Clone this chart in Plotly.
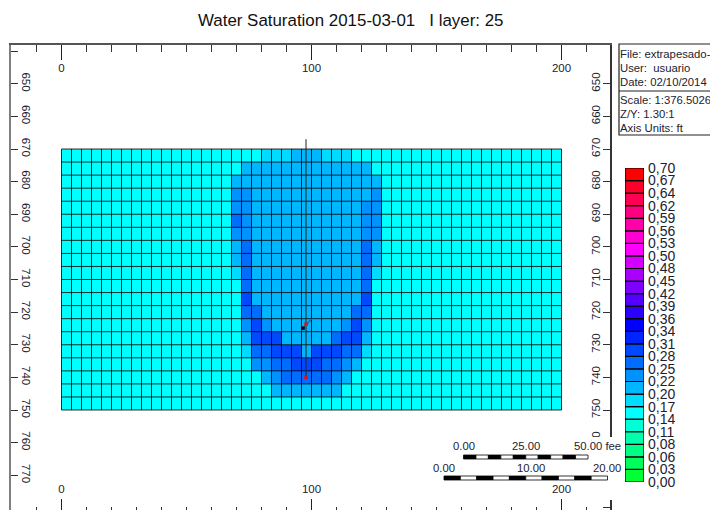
import plotly.graph_objects as go

W, H = 710, 510

# ---- data ----
# saturation class values (mid-points of the colour classes)
C, D, B, A, M, N = 0.154, 0.182, 0.21, 0.238, 0.266, 0.294

x_edges = list(range(0, 204, 4))
y_edges = list(range(670, 754, 4))
x_centers = [v + 2 for v in x_edges[:-1]]
y_centers = [v + 2 for v in y_edges[:-1]]

left_background = [C] * 16      # columns 0-15 are uniform cyan
right_background = [C] * 17     # columns 33-49 are uniform cyan
core_rows = [  # columns 16-32, rows from top (I-layer depth 670) to bottom
    [C, C, C, C, D, D, D, B, B, B, D, D, D, C, C, C, C],
    [C, C, B, B, B, B, B, B, B, B, B, B, B, B, B, C, C],
    [C, B, B, B, B, B, B, B, B, B, B, B, B, B, B, B, C],
    [C, A, A, B, B, B, B, B, B, B, B, B, B, B, B, A, C],
    [C, A, A, B, B, B, B, B, B, B, B, B, B, B, A, A, C],
    [C, M, A, B, B, B, B, B, B, B, B, B, B, B, A, A, C],
    [C, A, A, B, B, B, B, B, B, B, B, B, B, B, A, A, C],
    [C, B, M, B, B, B, B, B, B, B, B, B, B, B, M, B, C],
    [C, B, M, B, B, B, B, B, B, B, B, B, B, B, M, B, C],
    [C, D, M, B, B, B, B, B, B, B, B, B, B, B, M, D, C],
    [C, C, M, B, B, B, B, B, B, B, B, B, B, B, M, C, C],
    [C, C, N, B, B, B, B, B, B, B, B, B, B, B, N, C, C],
    [C, C, M, M, B, B, B, B, B, B, B, B, B, M, M, C, C],
    [C, C, A, N, A, B, B, B, B, B, B, B, A, N, A, C, C],
    [C, C, B, N, N, N, B, B, B, B, B, M, N, N, B, C, C],
    [C, C, D, M, M, N, N, N, B, N, N, N, M, M, D, C, C],
    [C, C, C, A, A, M, M, N, N, N, M, M, A, B, C, C, C],
    [C, C, C, C, B, A, M, M, M, M, M, A, B, C, C, C, C],
    [C, C, C, C, C, B, B, B, B, B, B, B, C, C, C, C, C],
    [C, C, C, C, C, C, C, C, C, C, C, C, C, C, C, C, C],
]

well_x = [97.8, 97.8]
well_y = [667, 740]
perf_x = [97.8, 97.8]
perf_y = [723.7, 740]
toe_x = [96.6]
toe_y = [724.9]
stub_x = [96.2, 100]
stub_y = [725.5, 722]

legend_levels = [0.0, 0.028, 0.056, 0.084, 0.112, 0.14, 0.168, 0.196, 0.224, 0.252, 0.28, 0.308, 0.336,
                 0.364, 0.392, 0.42, 0.448, 0.476, 0.504, 0.532, 0.56, 0.588, 0.616, 0.644, 0.672, 0.70]
legend_labels = ["0,00", "0,03", "0,06", "0,08", "0,11", "0,14", "0,17", "0,20", "0,22", "0,25", "0,28",
                 "0,31", "0,34", "0,36", "0,39", "0,42", "0,45", "0,48", "0,50", "0,53", "0,56", "0,59",
                 "0,62", "0,64", "0,67", "0,70"]
legend_colors = ["#00ff33", "#00ff5c", "#00ff85", "#00ffad", "#00ffd6", "#00ffff",
                 "#00dbff", "#00b6ff", "#0092ff", "#006dff", "#0049ff", "#0024ff",
                 "#0000ff", "#2a00ff", "#5500ff", "#8000ff", "#aa00ff", "#d400ff",
                 "#ff00ff", "#ff00d4", "#ff00aa", "#ff0080", "#ff0055", "#ff002a", "#ff0000"]

x_major = [0, 100, 200]
x_major_text = ["0", "100", "200"]
x_minor = [-10, 10, 20, 30, 40, 50, 60, 70, 80, 90, 110, 120, 130, 140, 150, 160, 170, 180, 190, 210]
y_ticks = [640, 650, 660, 670, 680, 690, 700, 710, 720, 730, 740, 750, 760, 770, 780]
y_left_text = ["", "650", "660", "670", "680", "690", "700", "710", "720", "730", "740", "750", "760", "770", ""]
y_right_text = ["640", "650", "660", "670", "680", "690", "700", "710", "720", "730", "740", "750", "760", "", ""]

title_text = "Water Saturation 2015-03-01\u00a0\u00a0\u00a0I layer: 25"
info_top = ["File: extrapesado-", "User:\u00a0\u00a0usuario", "Date: 02/10/2014"]
info_bottom = ["Scale: 1:376.5026", "Z/Y: 1.30:1", "Axis Units: ft"]

scale_ft_labels = ["0.00", "25.00", "50.00 fee"]
scale_m_labels = ["0.00", "10.00", "20.00"]

# ---- helpers: figure pixels to paper fractions ----
px = lambda v: v / W
py = lambda v: 1 - v / H

FONT = "Liberation Sans, Arial, sans-serif"
TXT = "#1c2230"

z = [left_background + row + right_background for row in core_rows]

stops = []
n = len(legend_colors)
for i, c in enumerate(legend_colors):
    stops += [[i / n, c], [(i + 1) / n, c]]

grid_x, grid_y = [], []
for v in x_edges:
    grid_x += [v, v, None]
    grid_y += [y_edges[0], y_edges[-1], None]
for v in y_edges:
    grid_x += [x_edges[0], x_edges[-1], None]
    grid_y += [v, v, None]

fig = go.Figure()
fig.add_trace(go.Heatmap(x=x_centers, y=y_centers, z=z, zmin=0, zmax=0.7, colorscale=stops,
                         showscale=False, hoverinfo="skip"))
fig.add_trace(go.Scatter(x=grid_x, y=grid_y, mode="lines", line=dict(color="rgba(0,0,0,0.8)", width=1),
                         hoverinfo="skip", showlegend=False))
fig.add_trace(go.Scatter(x=well_x, y=well_y, mode="lines", line=dict(color="#222222", width=1),
                         xaxis="x2", yaxis="y2", showlegend=False, hoverinfo="skip"))
fig.add_trace(go.Scatter(x=stub_x, y=stub_y, mode="lines", line=dict(color="#1f6f9f", width=1.5),
                         xaxis="x2", yaxis="y2", showlegend=False, hoverinfo="skip"))
fig.add_trace(go.Scatter(x=toe_x, y=toe_y, mode="markers", marker=dict(color="black", size=3.5, symbol="square"),
                         xaxis="x2", yaxis="y2", showlegend=False, hoverinfo="skip"))
fig.add_trace(go.Scatter(x=perf_x, y=perf_y, mode="markers", marker=dict(color="#e01010", size=3.5, symbol="square"),
                         xaxis="x2", yaxis="y2", showlegend=False, hoverinfo="skip"))

fig.add_trace(go.Bar(x=[0] * n, y=[legend_levels[i + 1] - legend_levels[i] for i in range(n)],
                     base=legend_levels[:-1], width=1,
                     marker=dict(color=legend_colors, line=dict(color="#000000", width=1.2)),
                     xaxis="x3", yaxis="y3", showlegend=False, hoverinfo="skip"))

X_RANGE = [-20.2, 219.2]
Y_RANGE = [780.65, 638.12]
X_DOM = [px(11), px(609.5)]
Y_DOM = [0, py(45)]
tick_font = dict(family=FONT, size=11.5, color=TXT)

x_common = dict(range=X_RANGE, domain=X_DOM, showgrid=False, zeroline=False,
                tickmode="array", tickvals=x_major, ticktext=x_major_text, ticks="inside",
                tickwidth=1, tickcolor="#222222", tickfont=tick_font,
                ticklabelposition="inside", tickangle=0)
x_minor_style = dict(tickmode="array", tickvals=x_minor, ticks="inside", tickwidth=1,
                     tickcolor="#333333", showgrid=False)
y_common = dict(range=Y_RANGE, domain=Y_DOM, showgrid=False, zeroline=False, showline=True,
                tickmode="array", tickvals=y_ticks, ticks="inside", ticklen=7, tickwidth=1,
                tickcolor="#333333", tickfont=tick_font, ticklabelposition="inside")

shapes = [
    # mask of the scale-bar panel over the right frame
    dict(type="rect", xref="paper", yref="paper", x0=px(592), x1=px(612), y0=py(437), y1=py(500),
         fillcolor="white", line=dict(width=0), layer="above"),
    # info panel
    dict(type="rect", xref="paper", yref="paper", x0=px(619), x1=px(740), y0=py(44), y1=py(135),
         fillcolor="white", line=dict(color="#222222", width=1.2), layer="above"),
    dict(type="line", xref="paper", yref="paper", x0=px(619), x1=px(740), y0=py(91), y1=py(91),
         line=dict(color="#222222", width=1.2), layer="above"),
]


def scale_bar(x0, x1, y0, y1, segments):
    step = (x1 - x0) / segments
    for k in range(segments):
        shapes.append(dict(type="rect", xref="paper", yref="paper",
                           x0=px(x0 + k * step), x1=px(x0 + (k + 1) * step), y0=py(y1), y1=py(y0),
                           fillcolor="black" if k % 2 == 0 else "white",
                           line=dict(color="black", width=0.8), layer="above"))


scale_bar(463.5, 588, 455, 459, 10)
scale_bar(444, 607.5, 476, 480, 10)

annotations = [
    dict(x=px(350), y=py(21), text=title_text, font=dict(family=FONT, size=16.9, color="#111111"),
         xref="paper", yref="paper", xanchor="center", yanchor="middle", showarrow=False),
]
for text, yp in zip(info_top + info_bottom, [54, 68, 82, 100, 114, 128]):
    annotations.append(dict(x=px(620), y=py(yp), text=text, font=dict(family=FONT, size=11.3, color=TXT),
                            xref="paper", yref="paper", xanchor="left", yanchor="middle",
                            showarrow=False, xshift=-2))
for text, xp, anchor in zip(scale_ft_labels, [463.5, 526, 575], ["center", "center", "left"]):
    annotations.append(dict(x=px(xp), y=py(446), text=text, font=dict(family=FONT, size=11.3, color=TXT),
                            xref="paper", yref="paper", xanchor=anchor, yanchor="middle", showarrow=False,
                            xshift=-3 if anchor == "left" else 0))
for text, xp, anchor in zip(scale_m_labels, [444, 531, 594], ["center", "center", "left"]):
    annotations.append(dict(x=px(xp), y=py(468), text=text, font=dict(family=FONT, size=11.3, color=TXT),
                            xref="paper", yref="paper", xanchor=anchor, yanchor="middle", showarrow=False,
                            xshift=-3 if anchor == "left" else 0))

fig.update_layout(
    width=W, height=H, margin=dict(l=0, r=0, t=0, b=0, pad=0, autoexpand=False), autosize=False,
    paper_bgcolor="white", plot_bgcolor="white", showlegend=False, barmode="overlay",
    font=dict(family=FONT, color=TXT),
    xaxis=dict(x_common, side="bottom", anchor="y", showline=False, ticklen=11,
               ticklabelstandoff=3, minor=dict(x_minor_style, ticklen=3)),
    xaxis2=dict(x_common, side="top", anchor="y", overlaying="x", showline=True, ticklen=15,
                linecolor="#555555", linewidth=2, ticklabelstandoff=3, minor=dict(x_minor_style, ticklen=7)),
    yaxis=dict(y_common, side="left", anchor="x", ticktext=y_left_text, tickangle=90,
               linecolor="#7f7f7f", linewidth=2, ticklabelstandoff=1),
    yaxis2=dict(y_common, side="right", anchor="x", overlaying="y", ticktext=y_right_text, tickangle=-90,
                linecolor="#333333", linewidth=1.5),
    xaxis3=dict(range=[-0.5, 0.5], domain=[px(625), px(644)], anchor="y3", visible=False, fixedrange=True),
    yaxis3=dict(range=[0, 0.7], domain=[py(482), py(168)], anchor="x3", side="right", showgrid=False,
                zeroline=False, showline=False, ticks="", tickmode="array", tickvals=legend_levels,
                ticktext=legend_labels, ticklabelstandoff=3, fixedrange=True,
                tickfont=dict(family=FONT, size=14, color=TXT)),
    shapes=shapes, annotations=annotations,
)

fig.write_html("out.html", config=dict(displayModeBar=False),
               post_script="document.body.style.margin='0';document.body.style.overflow='hidden';")
